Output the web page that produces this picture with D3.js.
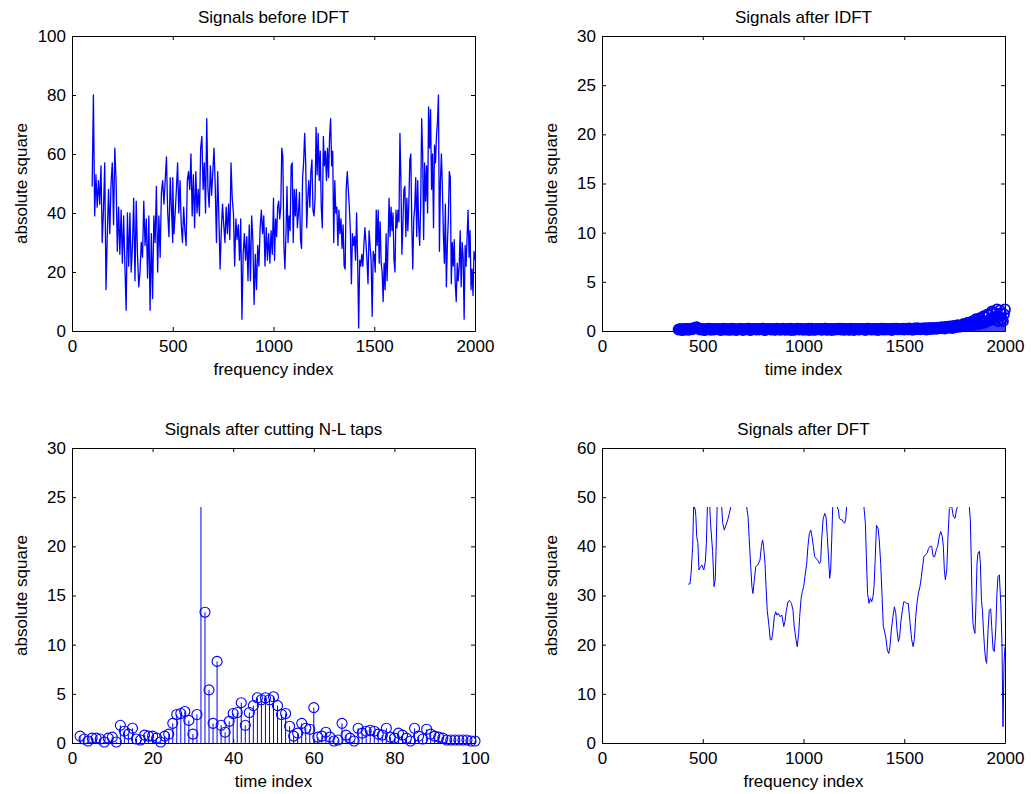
<!DOCTYPE html>
<html>
<head>
<meta charset="utf-8">
<script src="https://cdn.jsdelivr.net/npm/d3@7"></script>
<style>
  body { margin: 0; background: #fff; }
  svg text { font-family: "Liberation Sans", Arial, sans-serif; font-size: 17px; fill: #000; }
</style>
</head>
<body>
<script>
// ---- signals before IDFT (frequency index 100..2000, read in four stretches)
const beforeRanges = [[100, 500], [500, 1000], [1000, 1500], [1500, 2000]];
const before1 = [49, 80, 39, 53, 42, 51, 43, 56, 30, 41, 57, 14, 32, 48, 33, 50, 57, 36, 62, 51, 27, 42, 26, 41, 23, 39, 22, 7, 40, 22, 40, 20, 29, 45, 17, 44, 26, 15, 20, 30, 25, 44, 29, 38, 18, 39, 7, 33, 11, 39, 30, 49, 20, 39, 25, 47, 51, 43, 51, 59, 40, 32, 52, 41, 30];
const before2 = [52, 33, 40, 48, 57, 40, 51, 36, 30, 42, 34, 29, 51, 54, 48, 60, 39, 53, 35, 54, 40, 48, 39, 62, 66, 48, 57, 40, 72, 48, 42, 56, 46, 54, 62, 49, 30, 54, 39, 21, 34, 43, 36, 30, 42, 33, 43, 31, 57, 45, 40, 22, 38, 31, 36, 24, 38, 4, 26, 33, 24, 32, 17, 36, 17, 39, 31, 9, 26, 14, 29, 22, 35, 41, 33, 39, 22, 35, 24, 33, 23, 34, 26, 45];
const before3 = [44, 24, 38, 32, 42, 44, 38, 42, 62, 59, 29, 21, 33, 49, 30, 39, 34, 56, 57, 30, 48, 39, 48, 35, 40, 47, 31, 28, 52, 57, 67, 57, 35, 45, 51, 42, 54, 58, 41, 39, 45, 69, 53, 67, 51, 61, 42, 35, 66, 56, 61, 51, 62, 52, 66, 72, 56, 61, 30, 51, 40, 42, 29, 41, 33, 38, 28, 36, 22, 21, 48, 54, 48, 42, 34, 16, 33, 29, 32, 24, 40, 24, 1, 24, 22, 26, 22, 29, 35, 30, 24, 16, 34, 29, 24, 5, 27, 24];
const before4 = [26, 20, 41, 29, 41, 23, 37, 23, 20, 10, 23, 14, 33, 17, 30, 45, 32, 42, 34, 40, 24, 20, 41, 35, 41, 37, 67, 51, 26, 36, 48, 49, 32, 45, 34, 43, 58, 60, 36, 21, 38, 42, 52, 32, 51, 36, 29, 42, 72, 60, 31, 57, 44, 56, 40, 76, 62, 75, 48, 60, 35, 63, 57, 66, 71, 80, 27, 51, 60, 48, 33, 23, 43, 15, 29, 38, 54, 52, 16, 30, 22, 31, 16, 10, 23, 17, 22, 34, 15, 30, 25, 4, 29, 22, 32, 41, 25, 34, 14, 21, 12, 27, 24];

// ---- signals after IDFT (time index from 380, step 10; second list sits 5 to the right)
const idftStart = 380;
const idftStep = 10;
const idftVals = [
  0.15, 0.2, 0.1, 0.22, 0.18, 0.12, 0.25, 0.2, 0.3, 0.4,
  0.22, 0.15, 0.2, 0.1, 0.18, 0.24, 0.12, 0.2, 0.16, 0.22,
  0.2, 0.1, 0.24, 0.15, 0.2, 0.18, 0.12, 0.22, 0.2, 0.14,
  0.18, 0.22, 0.1, 0.2, 0.16, 0.24, 0.12, 0.2, 0.18, 0.22,
  0.14, 0.2, 0.24, 0.1, 0.18, 0.2, 0.15, 0.22, 0.12, 0.2,
  0.2, 0.16, 0.24, 0.12, 0.18, 0.22, 0.1, 0.2, 0.16, 0.24,
  0.15, 0.2, 0.12, 0.22, 0.18, 0.1, 0.24, 0.2, 0.14, 0.2,
  0.22, 0.12, 0.18, 0.24, 0.15, 0.2, 0.1, 0.22, 0.18, 0.16,
  0.2, 0.24, 0.12, 0.18, 0.2, 0.15, 0.22, 0.1, 0.2, 0.18,
  0.16, 0.22, 0.2, 0.12, 0.24, 0.18, 0.15, 0.2, 0.22, 0.1,
  0.2, 0.18, 0.24, 0.14, 0.2, 0.22, 0.12, 0.18, 0.25, 0.16,
  0.22, 0.2, 0.15, 0.25, 0.18, 0.22, 0.12, 0.26, 0.2, 0.24,
  0.18, 0.26, 0.22, 0.15, 0.28, 0.2, 0.25, 0.3, 0.22, 0.32,
  0.28, 0.35, 0.25, 0.4, 0.32, 0.45, 0.3, 0.5, 0.4, 0.55,
  0.45, 0.62, 0.5, 0.7, 0.55, 0.8, 0.6, 0.9, 1.1, 0.7,
  1.2, 0.8, 1.4, 1.0, 1.6, 1.3, 1.9, 1.2, 2.2, 1.5,
  1.8, 1.0, 2.2
];
const idftValsMid = [
  0.2, 0.12, 0.18, 0.15, 0.22, 0.2, 0.16, 0.28, 0.35, 0.3,
  0.18, 0.22, 0.12, 0.2, 0.16, 0.2, 0.22, 0.14, 0.2, 0.18,
  0.15, 0.2, 0.18, 0.22, 0.12, 0.2, 0.24, 0.16, 0.1, 0.2,
  0.22, 0.14, 0.2, 0.18, 0.24, 0.1, 0.2, 0.22, 0.15, 0.2,
  0.2, 0.24, 0.12, 0.2, 0.22, 0.16, 0.2, 0.14, 0.24, 0.18,
  0.12, 0.22, 0.18, 0.2, 0.15, 0.24, 0.2, 0.12, 0.22, 0.18,
  0.22, 0.16, 0.2, 0.14, 0.24, 0.2, 0.15, 0.12, 0.22, 0.18,
  0.16, 0.2, 0.24, 0.12, 0.2, 0.22, 0.18, 0.15, 0.2, 0.24,
  0.14, 0.2, 0.18, 0.22, 0.12, 0.24, 0.16, 0.2, 0.22, 0.15,
  0.2, 0.18, 0.12, 0.24, 0.2, 0.16, 0.22, 0.14, 0.2, 0.18,
  0.24, 0.15, 0.2, 0.22, 0.18, 0.12, 0.24, 0.2, 0.16, 0.22,
  0.18, 0.24, 0.2, 0.16, 0.26, 0.2, 0.22, 0.18, 0.28, 0.22,
  0.24, 0.2, 0.3, 0.22, 0.26, 0.32, 0.24, 0.28, 0.35, 0.3,
  0.38, 0.3, 0.42, 0.35, 0.48, 0.36, 0.52, 0.45, 0.6, 0.48,
  0.55, 0.72, 0.6, 0.85, 0.65, 0.95, 0.75, 1.2, 0.9, 1.3,
  1.0, 1.5, 0.9, 1.7, 1.1, 2.0, 1.4, 1.8, 1.0, 2.1,
  1.2, 1.7
];

// ---- signals after cutting N-L taps (time index 2..100)
const tapStart = 2;
const tapVals = [
  0.7, 0.4, 0.2, 0.5, 0.5, 0.4, 0.1, 0.5, 0.6, 0.1,
  1.8, 1.2, 0.9, 1.5, 0.4, 0.3, 0.8, 0.7, 0.7, 0.5,
  0.1, 0.7, 0.9, 2.0, 2.9, 3.0, 3.2, 2.3, 0.9, 2.9,
  24, 13.3, 5.4, 2.0, 8.3, 1.8, 1.1, 2.2, 3.0, 3.1,
  4.1, 1.8, 3.1, 3.8, 4.6, 4.4, 4.6, 4.4, 4.7, 3.8,
  2.9, 3.0, 1.7, 0.7, 1.0, 2.0, 1.5, 1.4, 3.6, 0.6,
  0.7, 1.1, 0.6, 0.2, 0.3, 2.0, 0.8, 0.5, 0.2, 1.5,
  1.0, 1.2, 1.3, 1.2, 0.9, 0.8, 1.5, 0.6, 0.5, 1.0,
  0.8, 0.5, 0.2, 1.5, 0.7, 0.4, 1.4, 0.9, 0.7, 0.6,
  0.5, 0.3, 0.3, 0.3, 0.3, 0.3, 0.3, 0.2, 0.2
];
const tapNoMarker = [32];

// ---- signals after DFT (frequency index, value); values above 48 are cut off in the figure
const dftIdx = [428, 437, 442, 448, 450, 455, 463, 466, 470, 476, 481, 490, 496, 505, 513, 518, 523, 529, 539, 549, 556, 562, 566, 572, 582, 594, 599, 607, 615, 624, 632, 639, 677,
  718, 725, 730, 738, 744, 749, 756, 763, 773, 784, 791, 797, 802, 809, 814, 820, 829, 835, 842, 849, 855, 862, 868, 875, 883, 893, 902, 908, 915, 923, 930, 940, 948, 954, 963, 969, 976, 981, 988, 994, 1001, 1007, 1016, 1022, 1029, 1036, 1042, 1049, 1055, 1062, 1070, 1079, 1085, 1090, 1097, 1105, 1112, 1118, 1125, 1130, 1135, 1140, 1145, 1156,
  1168, 1173, 1178, 1185, 1191, 1198, 1204, 1209, 1214, 1256,
  1300, 1307, 1312, 1318, 1325, 1332, 1338, 1345, 1350, 1355, 1362, 1370, 1376, 1383, 1390, 1396, 1403, 1410, 1416, 1423, 1429, 1436, 1444, 1451, 1458, 1464, 1471, 1477, 1484, 1491, 1497, 1504, 1512, 1520, 1529, 1537, 1544, 1550, 1557, 1563, 1570, 1578, 1585, 1591, 1598, 1605, 1613, 1621, 1628, 1636, 1644, 1651, 1659, 1666, 1674, 1681, 1689, 1694, 1699, 1704, 1711, 1717, 1724, 1729, 1734, 1737, 1744, 1752, 1759, 1764, 1793,
  1823, 1828, 1833, 1836, 1841, 1846, 1851, 1856, 1861, 1866, 1873, 1878, 1883, 1888, 1893, 1898, 1904, 1909, 1916, 1922, 1929, 1934, 1941, 1947, 1954, 1960, 1965, 1972, 1979, 1985, 1990, 1995, 2000];
const dftVal = [32.3, 32.4, 34.5, 38.6, 40, 48.5, 47.4, 46, 42, 40.6, 35.2, 35.9, 36.2, 35.2, 36.9, 40.6, 48, 53, 44.5, 39, 31.8, 33.2, 39, 49, 53, 48, 44.7, 43.3, 44.3, 45.4, 46.7, 48, 56,
  48, 46, 42, 35.9, 31.8, 30.4, 33.2, 35.9, 36.2, 37.2, 40, 41.3, 40, 36.5, 31.8, 27, 23.7, 21, 21, 23, 25.7, 26.7, 26, 26.4, 25.7, 26, 23.7, 24.7, 27, 28.7, 29, 28.4, 27, 23.7, 21, 19.6, 22.3, 25.7, 29.4, 30.8, 31.8, 33.8, 36.5, 40, 42.6, 43.3, 42, 40, 37.9, 37.6, 37.2, 36.5, 36.9, 41.3, 45.4, 46.7, 46, 42, 37.2, 33.5, 35.2, 41.3, 48, 55,
  48, 47.4, 45.7, 45.4, 45.4, 45, 44.7, 45.4, 48, 56,
  48, 44.7, 37.9, 30.4, 28.4, 29.4, 28.7, 29.8, 31.8, 36.5, 44.3, 43.7, 41.3, 36.5, 29.8, 23.7, 22.6, 21, 18.9, 18.2, 19.6, 23, 25.7, 27.7, 26.4, 23, 20.6, 21.6, 25, 27, 28.7, 28.7, 28.4, 28.4, 24.3, 21, 19.6, 21, 25.7, 28.4, 30.4, 31.8, 33.8, 35.9, 37.9, 38.3, 38.6, 39.6, 40, 40, 37.9, 37.9, 39.3, 40, 42, 43, 42, 40, 35.2, 33.2, 35.2, 42, 47.7, 48, 50, 47.7, 46, 45.7, 47.4, 48, 55,
  48, 45.4, 36.5, 29.8, 24.3, 23, 22.3, 28.4, 36.5, 38.6, 39, 36.5, 29, 27, 23, 19.6, 16.9, 16.2, 23, 27, 27.3, 23.7, 18.9, 18.6, 23, 30.4, 33.8, 34.2, 28.4, 20.3, 3.3, 16.2, 19.6];

const W = 403;
const H = 295;
const BLUE = '#0000ff';

const svg = d3.select('body')
  .append('svg')
  .attr('width', 1031)
  .attr('height', 794);

const makeAxes = ({ left, top, xMax, xStep, yMax, yStep, title, xLabel }) => {
  const x = d3.scaleLinear().domain([0, xMax]).range([left, left + W]);
  const y = d3.scaleLinear().domain([0, yMax]).range([top + H, top]);
  const xTicks = d3.range(0, xMax + 1, xStep);
  const yTicks = d3.range(0, yMax + 1, yStep);
  const fmt = d3.format('d');
  const g = svg.append('g');

  const styleAxis = sel => sel.attr('font-size', null).attr('font-family', null);

  g.append('g')
    .attr('transform', `translate(0,${ top + H })`)
    .call(d3.axisBottom(x).tickValues(xTicks).tickFormat(fmt).tickSizeInner(-4).tickSizeOuter(0).tickPadding(9))
    .call(styleAxis);
  g.append('g')
    .attr('transform', `translate(0,${ top })`)
    .call(d3.axisTop(x).tickValues(xTicks).tickSizeInner(-4).tickSizeOuter(0).tickFormat(''));
  g.append('g')
    .attr('transform', `translate(${ left },0)`)
    .call(d3.axisLeft(y).tickValues(yTicks).tickFormat(fmt).tickSizeInner(-4).tickSizeOuter(0).tickPadding(6))
    .call(styleAxis);
  g.append('g')
    .attr('transform', `translate(${ left + W },0)`)
    .call(d3.axisRight(y).tickValues(yTicks).tickSizeInner(-4).tickSizeOuter(0).tickFormat(''));

  g.append('text')
    .attr('x', left + W / 2)
    .attr('y', top - 13)
    .attr('text-anchor', 'middle')
    .text(title);

  g.append('text')
    .attr('x', left + W / 2)
    .attr('y', top + H + 44)
    .attr('text-anchor', 'middle')
    .text(xLabel);

  g.append('text')
    .attr('transform', `translate(${ left - 45 },${ top + H / 2 }) rotate(-90)`)
    .attr('text-anchor', 'middle')
    .text('absolute square');

  return { x, y, g };
};

const drawStems = (x, y, pts, markerPts, ringWidth) => {
  const g = svg.append('g');
  g.selectAll('line')
    .data(pts)
    .join('line')
    .attr('x1', d => x(d[0])).attr('x2', d => x(d[0]))
    .attr('y1', y(0)).attr('y2', d => y(d[1]))
    .attr('stroke', BLUE);
  g.selectAll('circle')
    .data(markerPts)
    .join('circle')
    .attr('cx', d => x(d[0]))
    .attr('cy', d => y(d[1]))
    .attr('r', 5)
    .attr('fill', 'none')
    .attr('stroke', BLUE)
    .attr('stroke-width', ringWidth);
  return g;
};

// top left: line
{
  const { x, y } = makeAxes({ left: 72, top: 36, xMax: 2000, xStep: 500, yMax: 100, yStep: 20,
    title: 'Signals before IDFT', xLabel: 'frequency index' });
  const segs = [before1, before2, before3, before4];
  const points = [];
  segs.forEach((vals, s) => {
    const [a, b] = beforeRanges[s];
    vals.forEach((v, i) => points.push([a + i * (b - a) / (vals.length - 1), v]));
  });
  svg.append('path')
    .datum(points)
    .attr('fill', 'none')
    .attr('stroke', BLUE)
    .attr('stroke-width', 1.3)
    .attr('stroke-linejoin', 'round')
    .attr('d', d3.line().x(d => x(d[0])).y(d => y(d[1])));
}

// top right: stem, dense enough to merge into a band
{
  const { x, y } = makeAxes({ left: 602, top: 36, xMax: 2000, xStep: 500, yMax: 30, yStep: 5,
    title: 'Signals after IDFT', xLabel: 'time index' });
  const pts = idftVals.map((v, i) => [idftStart + i * idftStep, v])
    .concat(idftValsMid.map((v, i) => [idftStart + idftStep / 2 + i * idftStep, v]))
    .sort((a, b) => a[0] - b[0]);
  const g = drawStems(x, y, pts, pts, 1.8);
  g.append('line')
    .attr('x1', x(430)).attr('x2', x(2000))
    .attr('y1', y(0) + 0.5).attr('y2', y(0) + 0.5)
    .attr('stroke', '#000');
}

// bottom left: stem
{
  const { x, y } = makeAxes({ left: 72, top: 448, xMax: 100, xStep: 20, yMax: 30, yStep: 5,
    title: 'Signals after cutting N-L taps', xLabel: 'time index' });
  const pts = tapVals.map((v, i) => [tapStart + i, v]);
  drawStems(x, y, pts, pts.filter(d => !tapNoMarker.includes(d[0])), 1.1);
}

// bottom right: line, cut at 48
{
  const { x, y } = makeAxes({ left: 602, top: 448, xMax: 2000, xStep: 500, yMax: 60, yStep: 10,
    title: 'Signals after DFT', xLabel: 'frequency index' });
  svg.append('clipPath')
    .attr('id', 'cut48')
    .append('rect')
    .attr('x', x(0)).attr('y', y(48))
    .attr('width', W + 2).attr('height', y(0) - y(48) + 2);
  svg.append('path')
    .datum(dftIdx.map((d, i) => [d, dftVal[i]]))
    .attr('clip-path', 'url(#cut48)')
    .attr('fill', 'none')
    .attr('stroke', BLUE)
    .attr('stroke-width', 1)
    .attr('d', d3.line().x(d => x(d[0])).y(d => y(d[1])));
}
</script>
</body>
</html>
